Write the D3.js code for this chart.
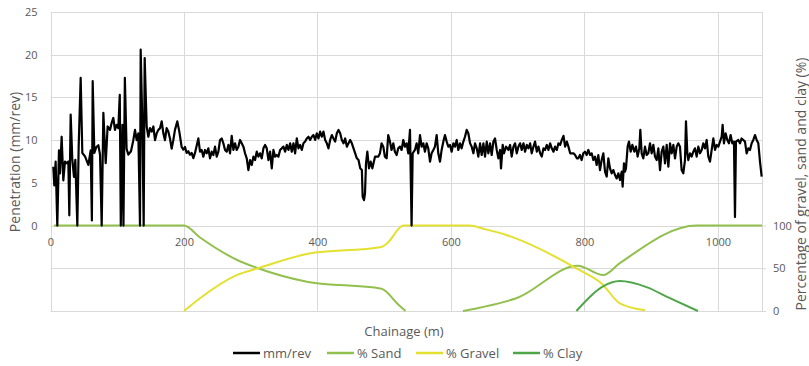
<!DOCTYPE html>
<html><head><meta charset="utf-8">
<script src="https://cdn.jsdelivr.net/npm/d3@7"></script>
<style>
body{margin:0;background:#fff}
svg text{font-family:"Open Sans",sans-serif;fill:#595959}
</style>
</head><body>
<svg id="chart" width="809" height="366"></svg>
<script>
// ---------- DATA ----------
const penChainage = [4.2,5.7,7.7,10.2,12.7,14.2,16.7,19.2,21.7,24.2,26.7,28.2,30.2,32.7,35.2,37.2,40.2,42.2,45.2,47.7,51.7,56.7,60.2,62.0,63.2,65.7,68.7,71.7,74.2,76.7,79.2,82.7,85.6,89.1,91.6,94.1,96.6,99.1,101.6,103.8,105.3,107.8,109.3,111.4,114.0,116.6,120.6,124.1,126.6,129.1,131.6,134.1,135.1,137.6,139.6,141.1,144.1,146.6,149.1,151.6,154.1,156.6,159.1,161.6,164.1,166.6,169.1,171.5,174.0,176.5,179.0,181.5,184.0,186.5,190.0,193.0,196.5,199.0,201.5,204.0,206.5,209.0,211.5,214.0,216.5,
221.5,224,226.5,229,231.5,234,236.5,239,241.5,244,246.5,249,251.5,254,256.5,259,261.5,264,266.5,269,271.5,274,276.5,279,281.5,284,286.5,289,291.5,294,296.5,299,301.5,304,306.5,309,311.5,314,316.5,319,321.5,324,326.5,329,331.5,334,336.5,339,341.5,344,346.5,349,351.5,354,356.5,359,361.5,364,366.5,369,371.5,374,376.5,379,381.5,384,386.5,389,391.5,394,396.5,399,401.5,404,406.5,409,411.5,414,416.5,419,421.5,424,426.5,429,431.5,434,436.5,439,441.5,444,446.5,449,451.5,454,456.5,459,461.5,464,466.5,467.7,469.7,471.2,472.7,474.7,477.2,479.7,482.2,486.2,491.2,
493.6,496,498.6,501,503.6,506,508.6,511,513.6,516,518.6,521,523.6,526,528.6,531,533.6,536,538.6,541,542.6,546,548.6,551,553.6,556,558.6,561,563.6,566,568.6,571,573.6,576,578.6,581,583.6,586,588.6,591,593.6,596,598.6,601,603.6,606,608.6,611,613.6,616,618.6,621,623.6,626,628.6,631,633.6,636,638.6,641,643.6,646,648.6,651,653.6,656,658.6,661,663.6,666,668.6,671,673.6,675,677.5,679.5,682.5,686,688.6,691,693.6,696,698.6,701,703.6,706,708.6,711,713.6,716,718.6,721,723.6,726,728.6,731,733.6,736,738.6,741,743.6,746,748.6,751,753.6,756,758.6,761,763.6,766,768.6,771,773.6,776,778.6,783.6,786,788.6,
790.8,793.3,795.8,798.3,800.8,803.3,805.8,808.3,810.8,813.3,815.8,818.3,820.8,823.3,825.8,828.3,830.8,833.3,835.8,838.3,840.8,843.3,845.8,848.3,850.8,853.3,855.8,857.2,859.2,860.7,862.2,864.7,866.7,869.2,871.7,874.7,877.2,879.7,882.2,883.7,885.7,888.2,890.7,893.2,895.7,898.2,900.7,903.2,905.7,908.2,910.7,913.2,915.7,918.2,920.7,923.2,925.7,928.2,930.7,933.2,935.7,938.2,940.6,943.1,945.6,948.1,950.6,952.1,954.1,955.6,958.1,960.6,963.1,965.6,968.1,970.6,973.1,975.6,978.1,980.6,983.1,985.6,988.1,990.6,993.1,995.6,998.1,1000.6,1003.1,1005.6,1007.0,1009.0,1011.5,1014.0,1016.5,1019.0,1021.5,1024.0,1025.5,1027.0,1030.5,1033.0,1035.5,1038.0,1040.5,1043.0,1045.5,1048.0,1050.5,1053.0,1055.5,1058.0,1060.5,1063.0,1065.5];
const penValue = [6.9,4.7,7.5,0,8.8,6.1,10.4,5.3,7.5,7.3,7.5,1.2,13.0,7.7,5.7,7.7,0,9.2,17.3,8.5,8.1,7.1,8.8,0.6,16.9,8.5,9.2,9.4,8.3,0,13.2,7.3,11.6,11.2,12.0,12.6,11.2,11.8,11.4,15.3,0,11.8,0,17.3,9.0,8.3,8.7,10.0,11.2,10.0,10.8,0,20.6,12.0,0,19.6,11.6,10.4,11.4,11.0,11.6,10.0,10.8,11.2,11.4,12.2,10.8,10.0,11.4,11.0,10.2,9.0,10.0,11.2,12.2,11.0,9.2,8.9,9.2,8.5,8.7,8.3,8.5,7.9,8.5,
10.2,8.65,8.85,8.07,8.85,8.46,9.04,7.87,8.65,8.26,9.24,8.07,8.65,10.02,10.2,9.63,8.85,8.65,9.44,8.46,10.5,8.85,9.63,8.85,9.24,10.02,9.63,9.24,8.46,7.87,6.5,7.67,7.09,8.07,7.67,8.65,8.07,8.46,7.87,9.04,9.44,9.04,7.67,8.65,6.7,8.85,8.07,8.26,8.07,8.85,9.04,9.24,8.65,9.44,8.85,9.63,8.65,9.63,8.46,10.2,9.04,9.44,8.85,9.63,9.83,10.2,10.4,10.02,10.4,10.6,10.02,10.8,10.2,11.0,10.4,11.0,10.02,9.63,9.04,10.02,10.6,10.2,9.83,10.8,11.2,10.8,10.02,9.63,10.2,9.24,9.63,10.02,9.63,9.04,8.46,7.87,7.67,6.7,6.5,3.37,2.98,3.76,7.28,8.65,6.7,7.48,6.7,8.07,8.07,
8.46,9.63,9.24,8.07,7.87,10.6,9.83,8.85,9.63,8.65,8.26,9.04,9.24,8.85,10.02,9.24,9.63,8.46,11.2,0,8.46,8.85,9.63,8.46,10.6,9.24,9.63,8.65,9.63,9.04,7.48,8.46,8.85,9.24,10.6,8.46,7.48,8.85,9.83,10.6,9.83,9.24,9.44,8.65,9.63,9.24,10.02,8.85,9.63,9.04,9.83,10.4,11.2,10.8,9.63,9.24,8.46,9.63,9.04,8.07,9.63,8.26,9.63,8.07,9.83,8.46,9.63,8.26,9.83,10.2,8.85,7.87,8.85,6.7,9.44,8.46,9.24,8.85,9.44,8.07,9.24,9.63,8.46,9.24,9.63,8.85,9.63,8.65,9.44,9.04,9.63,8.46,9.24,9.83,8.65,9.24,8.46,8.07,9.04,8.85,9.44,8.85,9.63,9.04,8.65,9.24,8.85,9.63,9.44,10.02,10.5,9.24,9.83,9.24,8.46,8.46,8.26,7.87,
7.87,8.26,7.67,8.46,8.65,8.26,8.85,8.26,8.46,7.67,8.07,7.09,8.26,6.5,7.67,8.46,6.31,5.72,7.87,6.7,6.11,6.5,5.92,5.52,6.11,5.33,6.31,4.55,7.28,6.31,6.7,9.24,9.83,8.65,9.44,8.65,9.24,8.07,9.04,11.2,8.46,7.87,9.24,8.26,8.46,9.63,8.46,9.44,8.07,7.67,9.04,6.5,8.65,9.24,7.28,9.44,6.89,9.63,8.46,9.44,7.87,9.24,9.63,9.24,6.5,6.11,7.67,12.2,8.46,7.67,8.46,8.07,8.65,9.04,8.07,9.24,8.46,8.85,9.63,9.04,10.02,8.07,7.48,8.85,10.2,8.85,9.44,9.24,9.83,10.4,11.8,9.63,10.8,10.02,9.63,10.6,9.63,9.83,1.0,9.83,10.02,9.63,10.2,10.02,9.83,8.46,9.04,8.85,9.63,10.02,10.6,10.02,9.63,7.48,5.72];

const sandChainage = [5,200,224,279,311,386,496,504,518,532,null,618,638,681,698,790,828,853,968,1066];
const sandPct      = [100,100,86,60,50,34,26,22,10,0,null,0,3,11,15,53,42,56,100,100];
const gravelChainage = [200,224,279,311,386,496,504,529,628,650,683,790,826,853,891];
const gravelPct      = [0,15,42,50,67,75,79,100,100,96,89,49,32,9,1];
const clayChainage = [788,826,853,893,928,970];
const clayPct      = [0,28,35,28,15,0];

const xTicks = [0,200,400,600,800,1000];
const leftTicks = [0,5,10,15,20,25];
const rightTicks = [0,50,100];
const gridLeft = [-10,-5,0,5,10,15,20,25];

const seriesNames = ["mm/rev","% Sand","% Gravel","% Clay"];
const colors = ["#000000","#92c04f","#e4e030","#4fa648"];

// ---------- CHART ----------
const svg = d3.select("#chart");
svg.append("rect").attr("width",809).attr("height",366).attr("fill","#fff");

const x = d3.scaleLinear().domain([0,1066]).range([50.5,762]);
const yL = d3.scaleLinear().domain([-10,25]).range([311,12]);
const yR = d3.scaleLinear().domain([0,350]).range([311,12]);

const grid = svg.append("g").attr("stroke","#d9d9d9").attr("stroke-width",1);
gridLeft.forEach(v=>{
  const yy = Math.round(yL(v))+0.5;
  grid.append("line").attr("x1",x(0)).attr("x2",x(1066)).attr("y1",yy).attr("y2",yy);
});
[0,...xTicks.slice(1),1066].forEach(v=>{
  const xx = Math.round(x(v))+0.5;
  grid.append("line").attr("x1",xx).attr("x2",xx).attr("y1",yL(25)).attr("y2",yL(-10));
});

// axes
const axL = svg.append("g").attr("transform",`translate(${x(0)},0)`)
  .call(d3.axisLeft(yL).tickValues(leftTicks).tickSize(0).tickPadding(13));
axL.select(".domain").remove();
axL.selectAll("text").style("font-size","11px").style("font-family","Open Sans");

const axB = svg.append("g").attr("transform",`translate(0,${yL(0)})`)
  .call(d3.axisBottom(x).tickValues(xTicks).tickFormat(d3.format("d")).tickSize(0).tickPadding(13));
axB.select(".domain").remove();
axB.selectAll("text").style("font-size","11px").style("font-family","Open Sans");

const axR = svg.append("g").attr("transform",`translate(${x(1066)},0)`)
  .call(d3.axisRight(yR).tickValues(rightTicks).tickSize(4).tickPadding(7));
axR.select(".domain").remove();
axR.selectAll("line").attr("stroke","#d9d9d9");
axR.selectAll("text").style("font-size","11px").style("font-family","Open Sans");

// series
function pctLine(xs, ys){
  const pts = xs.map((c,i)=>({c, v: ys[i]}));
  return d3.line().defined(d=>d.c!==null && d.v!==null)
    .x(d=>x(d.c)).y(d=>yR(d.v)).curve(d3.curveMonotoneX)(pts);
}
svg.append("path").attr("d",pctLine(sandChainage,sandPct)).attr("fill","none")
  .attr("stroke",colors[1]).attr("stroke-width",2);
svg.append("path").attr("d",pctLine(gravelChainage,gravelPct)).attr("fill","none")
  .attr("stroke",colors[2]).attr("stroke-width",2);
svg.append("path").attr("d",pctLine(clayChainage,clayPct)).attr("fill","none")
  .attr("stroke",colors[3]).attr("stroke-width",2);

const penPts = penChainage.map((c,i)=>({c, v: penValue[i]}));
svg.append("path").attr("d", d3.line().x(d=>x(d.c)).y(d=>yL(d.v))(penPts))
  .attr("fill","none").attr("stroke",colors[0]).attr("stroke-width",2.2)
  .attr("stroke-linejoin","round");

// titles
svg.append("text").attr("transform","translate(20,162) rotate(-90)")
  .attr("text-anchor","middle").style("font-size","14px").text("Penetration (mm/rev)");
svg.append("text").attr("transform","translate(806,184) rotate(-90)")
  .attr("text-anchor","middle").style("font-size","14px").text("Percentage of gravel, sand and clay (%)");
svg.append("text").attr("x",404).attr("y",336)
  .attr("text-anchor","middle").style("font-size","13px").text("Chainage (m)");

// legend
const legX = [233,327,416,513];
const leg = svg.append("g");
seriesNames.forEach((n,i)=>{
  leg.append("line").attr("x1",legX[i]).attr("x2",legX[i]+27).attr("y1",353).attr("y2",353)
    .attr("stroke",colors[i]).attr("stroke-width",2.5);
  leg.append("text").attr("x",legX[i]+30).attr("y",357.5).style("font-size","13px").text(n);
});
</script>
</body></html>
